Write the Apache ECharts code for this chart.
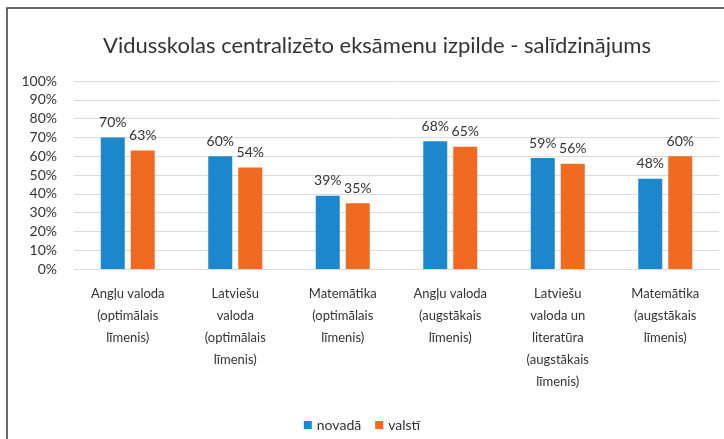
<!DOCTYPE html>
<html>
<head>
<meta charset="utf-8">
<script src="https://cdn.jsdelivr.net/npm/echarts@6/dist/echarts.min.js"></script>
<style>
  html, body { margin: 0; padding: 0; background: #fff; }
  #chart { width: 724px; height: 439px; }
</style>
</head>
<body>
<div id="chart"></div>
<script>
const categories = [
  'Angļu valoda\n(optimālais\nlīmenis)',
  'Latviešu\nvaloda\n(optimālais\nlīmenis)',
  'Matemātika\n(optimālais\nlīmenis)',
  'Angļu valoda\n(augstākais\nlīmenis)',
  'Latviešu\nvaloda un\nliteratūra\n(augstākais\nlīmenis)',
  'Matemātika\n(augstākais\nlīmenis)'
];
const novada = [70, 60, 39, 68, 59, 48];
const valsti = [63, 54, 35, 65, 56, 60];

const font = 'Lato, "Open Sans", sans-serif';
const textColor = '#333333';
const myChart = echarts.init(document.getElementById('chart'));

const labelStyle = {
  show: true,
  position: 'top',
  distance: 8,
  formatter: '{c}%',
  color: textColor,
  fontSize: 14,
  fontFamily: font
};

const option = {
  animation: false,
  title: {
    text: 'Vidusskolas centralizēto eksāmenu izpilde - salīdzinājums',
    left: 372,
    textAlign: 'center',
    top: 30,
    textStyle: { color: textColor, fontSize: 22, fontWeight: 'normal', fontFamily: font }
  },
  graphic: [{
    type: 'rect',
    shape: { x: 7, y: 8, width: 730, height: 450 },
    style: { fill: 'none', stroke: '#3a3a3a', lineWidth: 1.5 },
    silent: true
  }],
  legend: {
    bottom: 2,
    left: 'center',
    itemWidth: 8,
    itemHeight: 8,
    itemGap: 14,
    icon: 'rect',
    textStyle: { color: textColor, fontSize: 14, fontFamily: font },
    data: ['novadā', 'valstī']
  },
  grid: { left: 74, right: 5, top: 81, bottom: 170 },
  xAxis: {
    type: 'category',
    data: categories,
    axisLine: { lineStyle: { color: '#d9d9d9' } },
    axisTick: { show: false },
    axisLabel: {
      interval: 0,
      color: textColor,
      fontSize: 13,
      lineHeight: 22,
      margin: 14,
      fontFamily: font
    }
  },
  yAxis: {
    type: 'value',
    min: 0,
    max: 100,
    interval: 10,
    axisLabel: { formatter: '{value}%', color: textColor, fontSize: 14, margin: 17, fontFamily: font },
    splitLine: { lineStyle: { color: '#d9d9d9' } },
    axisLine: { show: false },
    axisTick: { show: false }
  },
  series: [
    {
      name: 'novadā',
      type: 'bar',
      data: novada,
      barWidth: 24,
      barGap: '25%',
      itemStyle: { color: '#1c87cb' },
      label: labelStyle
    },
    {
      name: 'valstī',
      type: 'bar',
      data: valsti,
      barWidth: 24,
      itemStyle: { color: '#f06b22' },
      label: labelStyle
    }
  ]
};

option && myChart.setOption(option);
</script>
</body>
</html>
